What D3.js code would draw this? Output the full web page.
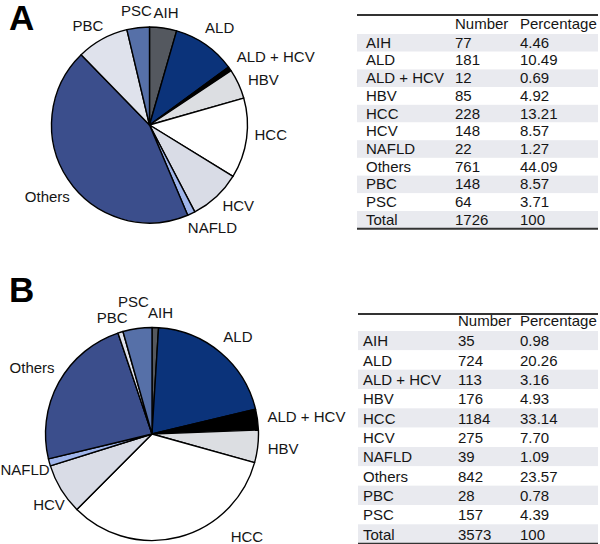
<!DOCTYPE html>
<html>
<head>
<meta charset="utf-8">
<script src="https://cdn.jsdelivr.net/npm/d3@7"></script>
<style>
    body { margin: 0; background: #fff; }
    text { font-family: "Liberation Sans", Arial, sans-serif; fill: #151515; }
</style>
</head>
<body>
<div id="chart"></div>
<script>
// data
const categories = ["AIH", "ALD", "ALD + HCV", "HBV", "HCC", "HCV", "NAFLD", "Others", "PBC", "PSC"];
const numbersA = [77, 181, 12, 85, 228, 148, 22, 761, 148, 64];
const percentA = ["4.46", "10.49", "0.69", "4.92", "13.21", "8.57", "1.27", "44.09", "8.57", "3.71"];
const numbersB = [35, 724, 113, 176, 1184, 275, 39, 842, 28, 157];
const percentB = ["0.98", "20.26", "3.16", "4.93", "33.14", "7.70", "1.09", "23.57", "0.78", "4.39"];
const totals = ["1726", "3573"];
const headers = ["", "Number", "Percentage"];

const colors = d3.scaleOrdinal()
    .domain(categories)
    .range(["#54585f", "#0b337a", "#000000", "#dcdee2", "#ffffff", "#d9dce6", "#9fb5ea", "#3b4e8c", "#dfe2ec", "#5670a8"]);

// small hand nudges so labels sit where the original put them
const labelNudge = {
    A: { "AIH": [2, 0], "ALD": [-4, -4], "ALD + HCV": [2, -2], "HBV": [4, 4], "HCC": [2, -3],
         "HCV": [2, 2], "NAFLD": [-6, 5], "Others": [7, 13], "PBC": [4, 0], "PSC": [-1, -2] },
    B: { "AIH": [5, 0], "ALD": [-1, -3], "ALD + HCV": [4, 1], "HBV": [4, 3], "HCC": [50, -11],
         "HCV": [9, 11], "NAFLD": [6, 6], "Others": [1, -6], "PBC": [9, 0], "PSC": [-3, -12] }
};

const svg = d3.select("#chart").append("svg")
    .attr("width", 600)
    .attr("height", 544);

const panels = [
    { key: "A", numbers: numbersA, percents: percentA, total: totals[0],
      cx: 149.5, cy: 125, r: 98, letterY: 30,
      table: { x0: 357, x1: 598, top: 15, headH: 19, rowH: 17.7, cols: [366, 455, 520] } },
    { key: "B", numbers: numbersB, percents: percentB, total: totals[1],
      cx: 152, cy: 434, r: 106.5, letterY: 302,
      table: { x0: 358, x1: 598, top: 314, headH: 17, rowH: 19.33, cols: [363, 458, 520] } }
];

panels.forEach(p => {
    const rows = categories.map((c, i) => ({ name: c, n: p.numbers[i], pct: p.percents[i] }));

    svg.append("text")
        .attr("x", 9)
        .attr("y", p.letterY)
        .style("font-size", "35px")
        .style("font-weight", "bold")
        .style("fill", "#000")
        .text(p.key);

    // pie
    const pie = d3.pie().sort(null).value(d => d.n);
    const arc = d3.arc().innerRadius(0).outerRadius(p.r);
    const arcs = pie(rows);

    const g = svg.append("g")
        .attr("transform", "translate(" + p.cx + "," + p.cy + ")");

    g.selectAll("path")
        .data(arcs)
        .enter().append("path")
        .attr("d", arc)
        .style("fill", d => colors(d.data.name))
        .style("stroke", "#000")
        .style("stroke-width", "1.4px")
        .style("stroke-linejoin", "round");

    const gap = 6;
    g.selectAll(".lbl")
        .data(arcs)
        .enter().append("text")
        .attr("class", "lbl")
        .style("font-size", "15px")
        .attr("text-anchor", d => {
            const s = Math.sin((d.startAngle + d.endAngle) / 2);
            return s > 0.25 ? "start" : (s < -0.25 ? "end" : "middle");
        })
        .attr("x", d => {
            const a = (d.startAngle + d.endAngle) / 2;
            return Math.sin(a) * (p.r + gap) + labelNudge[p.key][d.data.name][0];
        })
        .attr("y", d => {
            const a = (d.startAngle + d.endAngle) / 2;
            const c = Math.cos(a);
            return -c * (p.r + gap) + (1 - c) * 7 - 4 + labelNudge[p.key][d.data.name][1];
        })
        .text(d => d.data.name);

    // table
    const t = p.table;
    const tableRows = rows.map(d => [d.name, d.n, d.pct]);
    tableRows.push(["Total", p.total, "100"]);

    const tg = svg.append("g");
    tg.selectAll(".stripe")
        .data(tableRows)
        .enter().append("rect")
        .attr("class", "stripe")
        .attr("x", t.x0)
        .attr("width", t.x1 - t.x0)
        .attr("y", (d, i) => t.top + t.headH + i * t.rowH)
        .attr("height", t.rowH)
        .style("fill", (d, i) => i % 2 === 0 ? "#e9eaef" : "#fff");

    tg.selectAll(".head")
        .data(headers)
        .enter().append("text")
        .attr("class", "head")
        .attr("x", (d, i) => t.cols[i])
        .attr("y", t.top + t.headH - 5)
        .style("font-size", "15px")
        .text(d => d);

    tableRows.forEach((row, i) => {
        tg.selectAll(".cell" + i)
            .data(row)
            .enter().append("text")
            .attr("x", (d, j) => t.cols[j])
            .attr("y", t.top + t.headH + i * t.rowH + t.rowH - 4)
            .style("font-size", "15px")
            .text(d => d);
    });

    const bottom = t.top + t.headH + tableRows.length * t.rowH;
    [t.top, bottom].forEach(y => {
        tg.append("line")
            .attr("x1", t.x0).attr("x2", t.x1)
            .attr("y1", y).attr("y2", y)
            .style("stroke", "#333")
            .style("stroke-width", "2px");
    });
});
</script>
</body>
</html>
